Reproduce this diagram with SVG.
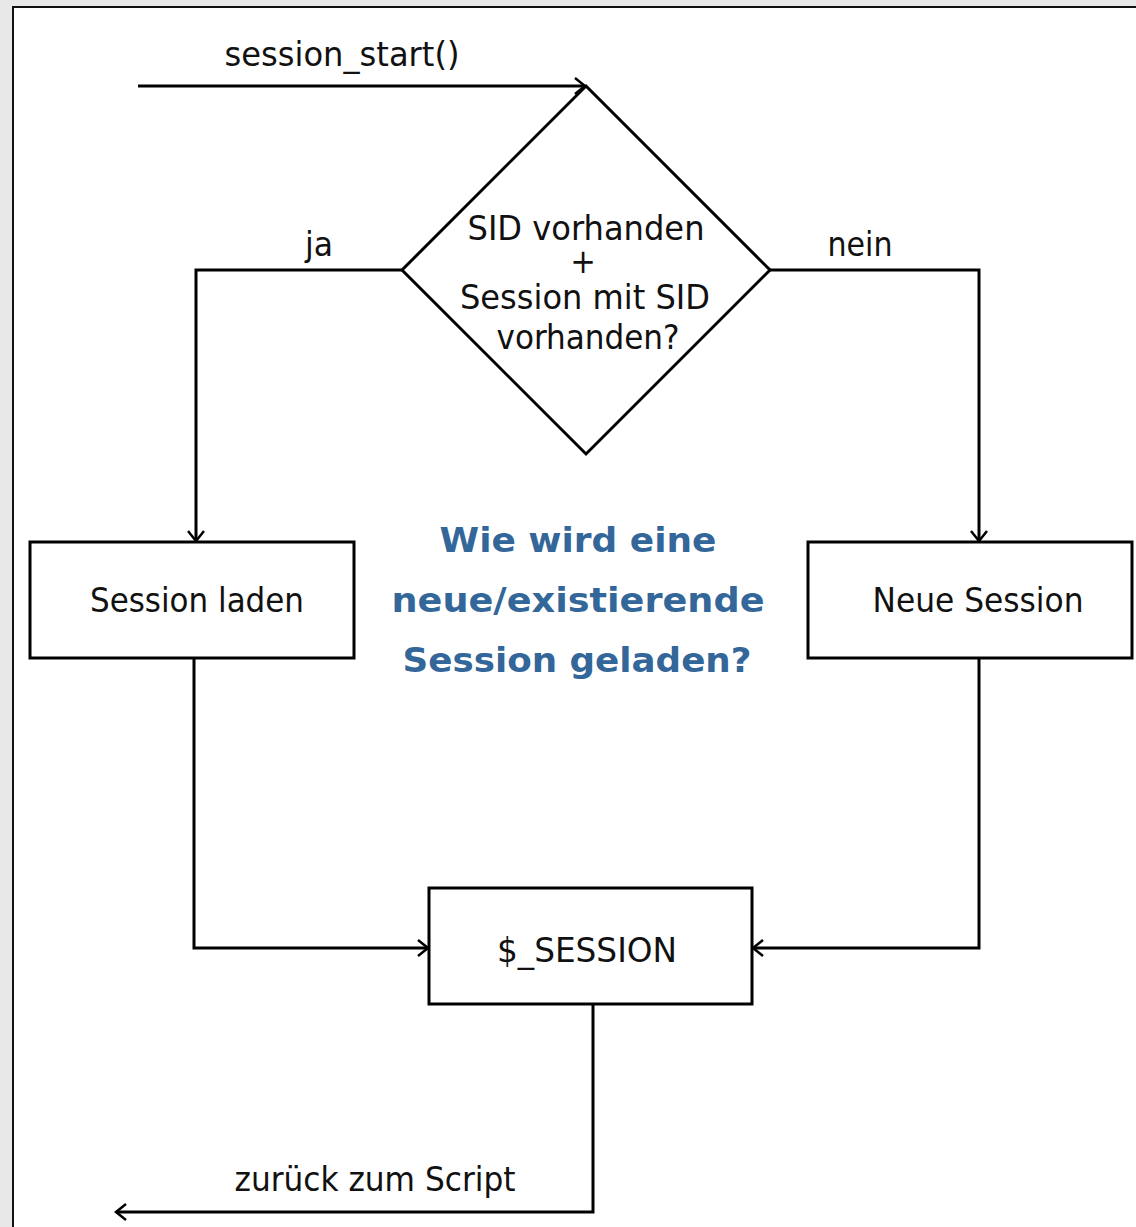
<svg xmlns="http://www.w3.org/2000/svg" width="1136" height="1227" viewBox="0 0 1136 1227">
<style>
.t{font-family:"DejaVu Sans Condensed","DejaVu Sans",sans-serif;font-stretch:condensed;font-size:34px;fill:#111;text-anchor:middle}
.b{font-family:"DejaVu Sans",Verdana,sans-serif;font-weight:bold;font-size:34px;fill:#336699;text-anchor:middle}
.n{fill:#fff;stroke:#000;stroke-width:3}
.c{fill:none;stroke:#000;stroke-width:3;marker-end:url(#ah)}
</style>
<defs>
<marker id="ah" markerUnits="userSpaceOnUse" viewBox="-12 -10 14 20" markerWidth="14" markerHeight="20" refX="0" refY="0" orient="auto">
<path d="M-10,-8 L0,0 L-10,8" fill="none" stroke="#000" stroke-width="2.5"/>
</marker>
</defs>
<rect x="0" y="0" width="1136" height="1227" fill="#e8e8e8"/>
<rect x="13" y="7" width="1140" height="1240" fill="#fff" stroke="#111" stroke-width="2"/>
<g id="connectors">
<path class="c" d="M138,86 H585"/>
<path class="c" d="M402,270 H196 V541"/>
<path class="c" d="M770,270 H979 V541"/>
<path class="c" d="M194,659 V948 H428"/>
<path class="c" d="M979,659 V948 H753"/>
<path class="c" d="M593,1005 V1212 H116"/>
<text class="t" x="342" y="66" textLength="235" lengthAdjust="spacingAndGlyphs">session_start()</text>
<text class="t" x="319" y="256" textLength="28" lengthAdjust="spacingAndGlyphs">ja</text>
<text class="t" x="860" y="256" textLength="65" lengthAdjust="spacingAndGlyphs">nein</text>
<text class="t" x="375" y="1191" textLength="281" lengthAdjust="spacingAndGlyphs">zurück zum Script</text>
</g>
<g id="decision">
<polygon class="n" points="586,86 770,270 586,454 402,270" stroke-width="2.5"/>
<text class="t" x="586" y="240" textLength="237" lengthAdjust="spacingAndGlyphs">SID vorhanden</text>
<text class="t" x="583" y="273">+</text>
<text class="t" x="585" y="309" textLength="250" lengthAdjust="spacingAndGlyphs">Session mit SID</text>
<text class="t" x="588" y="349" textLength="183" lengthAdjust="spacingAndGlyphs">vorhanden?</text>
</g>
<g id="session-laden">
<rect class="n" x="30" y="542" width="324" height="116"/>
<text class="t" x="197" y="612" textLength="214" lengthAdjust="spacingAndGlyphs">Session laden</text>
</g>
<g id="neue-session">
<rect class="n" x="808" y="542" width="324" height="116"/>
<text class="t" x="978" y="612" textLength="211" lengthAdjust="spacingAndGlyphs">Neue Session</text>
</g>
<g id="session-var">
<rect class="n" x="429" y="888" width="323" height="116"/>
<text class="t" x="587" y="962" textLength="180" lengthAdjust="spacingAndGlyphs">$_SESSION</text>
</g>
<g id="title">
<text class="b" x="578" y="552" textLength="277" lengthAdjust="spacingAndGlyphs">Wie wird eine</text>
<text class="b" x="578" y="612" textLength="373" lengthAdjust="spacingAndGlyphs">neue/existierende</text>
<text class="b" x="577" y="672" textLength="349" lengthAdjust="spacingAndGlyphs">Session geladen?</text>
</g>
</svg>
